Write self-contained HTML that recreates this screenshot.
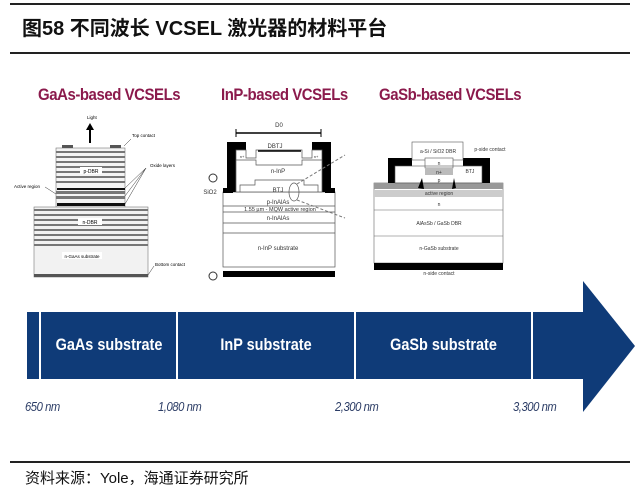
<!DOCTYPE html>
<html><head><meta charset="utf-8"><style>
body{margin:0;width:640px;height:493px;background:#fff;position:relative;overflow:hidden;font-family:"Liberation Sans","Noto Sans CJK SC",sans-serif}
.a{position:absolute;white-space:nowrap}
.h{color:#8b1a4c;font-weight:bold;font-size:17px;letter-spacing:-0.5px}
.s{color:#fff;font-weight:bold;font-size:17px;transform:scaleX(0.85)}
.nm{color:#2c3d66;font-style:italic;font-size:12.5px;letter-spacing:-0.5px;transform:scaleX(0.9);transform-origin:left}
</style></head><body>
<div class="a" style="left:10px;top:3px;width:620px;height:2px;background:#222"></div>
<div class="a" style="left:22px;top:12px;font-size:20px;font-weight:bold;color:#111">图58 不同波长 VCSEL 激光器的材料平台</div>
<div class="a" style="left:10px;top:52px;width:620px;height:2px;background:#222"></div>

<div class="a h" style="left:38px;top:85px;transform:scaleX(0.88);transform-origin:left">GaAs-based VCSELs</div>
<div class="a h" style="left:221px;top:85px;transform:scaleX(0.88);transform-origin:left">InP-based VCSELs</div>
<div class="a h" style="left:379px;top:85px;transform:scaleX(0.88);transform-origin:left">GaSb-based VCSELs</div>

<svg class="a" style="left:0;top:0" width="640" height="493">
<g>
<line x1="90" y1="143" x2="90" y2="128" stroke="#000" stroke-width="2"/>
<polygon points="86,130 94,130 90,123" fill="#000"/>
<rect x="56" y="148" width="69" height="59" fill="#f4f4f4" stroke="#777" stroke-width="0.6"/>
<g fill="#777">
<rect x="56" y="151" width="69" height="2"/><rect x="56" y="156" width="69" height="2"/><rect x="56" y="161" width="69" height="2"/><rect x="56" y="166" width="69" height="2"/><rect x="56" y="171" width="69" height="2"/><rect x="56" y="176" width="69" height="2"/><rect x="56" y="181" width="69" height="2"/><rect x="56" y="191" width="69" height="3"/><rect x="56" y="196" width="69" height="3"/>
</g>
<rect x="57" y="188" width="68" height="2" fill="#111"/><rect x="57" y="203" width="68" height="3" fill="#111"/>
<rect x="62" y="145" width="11" height="3" fill="#555"/><rect x="110" y="145" width="11" height="3" fill="#555"/>
<rect x="34" y="207" width="114" height="70" fill="#f2f2f2" stroke="#777" stroke-width="0.6"/>
<g fill="#777"><rect x="34" y="209" width="114" height="2"/><rect x="34" y="214" width="114" height="2"/><rect x="34" y="219" width="114" height="2"/><rect x="34" y="224" width="114" height="2"/><rect x="34" y="229" width="114" height="2"/><rect x="34" y="234" width="114" height="2"/><rect x="34" y="239" width="114" height="2"/><rect x="34" y="244" width="114" height="2"/></g>
<rect x="34" y="274" width="114" height="3" fill="#555"/>
<rect x="80" y="167" width="22" height="7" fill="#fff"/><text x="91" y="173" text-anchor="middle" font-size="5">p-DBR</text>
<rect x="78" y="218" width="24" height="7" fill="#fff"/><text x="90" y="224" text-anchor="middle" font-size="5">n-DBR</text>
<rect x="62" y="252" width="40" height="7" fill="#fff"/><text x="82" y="258" text-anchor="middle" font-size="4.5">n-GaAs substrate</text>
<text x="87" y="119" font-size="4.5">Light</text>
<text x="132" y="137" font-size="4.5">Top contact</text>
<line x1="124" y1="146" x2="131" y2="139" stroke="#333" stroke-width="0.5"/>
<text x="150" y="167" font-size="4.5">Oxide layers</text>
<line x1="146" y1="168" x2="125" y2="188" stroke="#333" stroke-width="0.5"/><line x1="146" y1="168" x2="125" y2="196" stroke="#333" stroke-width="0.5"/><line x1="146" y1="168" x2="125" y2="204" stroke="#333" stroke-width="0.5"/>
<text x="14" y="188" font-size="4.5">Active region</text>
<line x1="45" y1="187" x2="56" y2="194" stroke="#333" stroke-width="0.5"/>
<text x="155" y="266" font-size="4.5">Bottom contact</text>
<line x1="154" y1="266" x2="148" y2="275" stroke="#333" stroke-width="0.5"/>
</g>
<g>
<rect x="223" y="192" width="112" height="75" fill="#fff" stroke="#555" stroke-width="0.7"/>
<g stroke="#555" stroke-width="0.7"><line x1="223" y1="206" x2="335" y2="206"/><line x1="223" y1="212" x2="335" y2="212"/><line x1="223" y1="223" x2="335" y2="223"/><line x1="223" y1="233" x2="335" y2="233"/></g>
<rect x="223" y="271" width="112" height="6" fill="#000"/>
<path d="M227,192 L227,142 L246,142 L246,150 L236,150 L236,192 Z" fill="#000"/>
<path d="M331,192 L331,142 L312,142 L312,150 L322,150 L322,192 Z" fill="#000"/>
<rect x="223" y="188" width="10" height="5" fill="#000"/><rect x="325" y="188" width="10" height="5" fill="#000"/>
<path d="M236,192 L236,150 L246,150 L246,158 L256,158 L256,150 L302,150 L302,158 L312,158 L312,150 L322,150 L322,192" fill="none" stroke="#555" stroke-width="0.7"/>
<path d="M236,192 L236,160 L256,160 L256,165 L302,165 L302,160 L322,160 L322,192 Z" fill="#fff" stroke="#555" stroke-width="0.7"/>
<path d="M240,192 L240,185 L255,185 L255,180 L304,180 L304,185 L318,185 L318,192" fill="none" stroke="#555" stroke-width="0.7"/>
<line x1="236" y1="133" x2="321" y2="133" stroke="#000" stroke-width="1.5"/><line x1="236" y1="129" x2="236" y2="137" stroke="#000"/><line x1="321" y1="129" x2="321" y2="137" stroke="#000"/>
<line x1="258" y1="151" x2="301" y2="151" stroke="#000" stroke-width="1.5"/>
<ellipse cx="294" cy="192" rx="5" ry="9" fill="none" stroke="#555" stroke-width="0.7"/>
<line x1="297" y1="184" x2="345" y2="155" stroke="#777" stroke-dasharray="3,2"/><line x1="297" y1="200" x2="345" y2="218" stroke="#777" stroke-dasharray="3,2"/>
<circle cx="213" cy="178" r="4" fill="none" stroke="#333"/>
<circle cx="213" cy="276" r="4" fill="none" stroke="#333"/>
<g font-size="6" fill="#333" text-anchor="middle"><text x="279" y="127">D0</text><text x="275" y="148">DBTJ</text><text x="278" y="173">n-InP</text><text x="278" y="192">BTJ</text><text x="278" y="204">p-InAlAs</text><text x="280" y="211" font-size="5.5">1.55 µm - MQW active region</text><text x="278" y="220">n-InAlAs</text><text x="278" y="250">n-InP substrate</text><text x="210" y="194">SiO2</text><text x="242" y="158" font-size="4">n+</text><text x="316" y="158" font-size="4">n+</text></g>
</g>
<g>
<rect x="374" y="183" width="129" height="80" fill="#fff" stroke="#666" stroke-width="0.6"/>
<rect x="374" y="183" width="129" height="6" fill="#999"/>
<rect x="374" y="190" width="129" height="7" fill="#ccc"/>
<g stroke="#666" stroke-width="0.6"><line x1="374" y1="210" x2="503" y2="210"/><line x1="374" y1="236" x2="503" y2="236"/></g>
<rect x="374" y="263" width="129" height="7" fill="#000"/>
<path d="M388,183 L388,158 L412,158 L412,166 L395,166 L395,183 Z" fill="#000"/>
<path d="M490,183 L490,158 L463,158 L463,166 L482,166 L482,183 Z" fill="#000"/>
<rect x="412" y="142" width="51" height="18" fill="#fff" stroke="#555" stroke-width="0.6"/>
<rect x="425" y="158" width="28" height="10" fill="#fff" stroke="#555" stroke-width="0.6"/>
<rect x="425" y="168" width="28" height="7" fill="#bbb"/>
<rect x="395" y="166" width="87" height="17" fill="none" stroke="#555" stroke-width="0.6"/>
<polygon points="418,188 422,178 424,189" fill="#000"/><polygon points="456,188 454,178 452,189" fill="#000"/>
<g font-size="5" fill="#333" text-anchor="middle"><text x="438" y="153">a-Si / SiO2 DBR</text><text x="439" y="165">n</text><text x="439" y="174">n+</text><text x="439" y="182">p</text><text x="439" y="195">active region</text><text x="439" y="206">n</text><text x="439" y="225">AlAsSb / GaSb DBR</text><text x="439" y="250">n-GaSb substrate</text><text x="439" y="275">n-side contact</text><text x="490" y="151">p-side contact</text><text x="470" y="173">BTJ</text></g>
</g>
<rect x="27" y="312" width="558" height="67" fill="#0f3b78"/>
<polygon points="583,281 635,346 583,412" fill="#0f3b78"/>
<g fill="#fff"><rect x="39" y="312" width="2" height="67"/><rect x="176" y="312" width="2" height="67"/><rect x="354" y="312" width="2" height="67"/><rect x="531" y="312" width="2" height="67"/></g>
</svg>
<div class="a s" style="left:42px;top:335px;width:134px;text-align:center">GaAs substrate</div>
<div class="a s" style="left:178px;top:335px;width:176px;text-align:center">InP substrate</div>
<div class="a s" style="left:356px;top:335px;width:175px;text-align:center">GaSb substrate</div>
<div class="a nm" style="left:25px;top:400px">650 nm</div>
<div class="a nm" style="left:158px;top:400px">1,080 nm</div>
<div class="a nm" style="left:335px;top:400px">2,300 nm</div>
<div class="a nm" style="left:513px;top:400px">3,300 nm</div>
<div class="a" style="left:10px;top:461px;width:620px;height:1.5px;background:#222"></div>
<div class="a" style="left:25px;top:467px;font-size:15px;color:#111">资料来源：Yole，海通证券研究所</div>
</body></html>
